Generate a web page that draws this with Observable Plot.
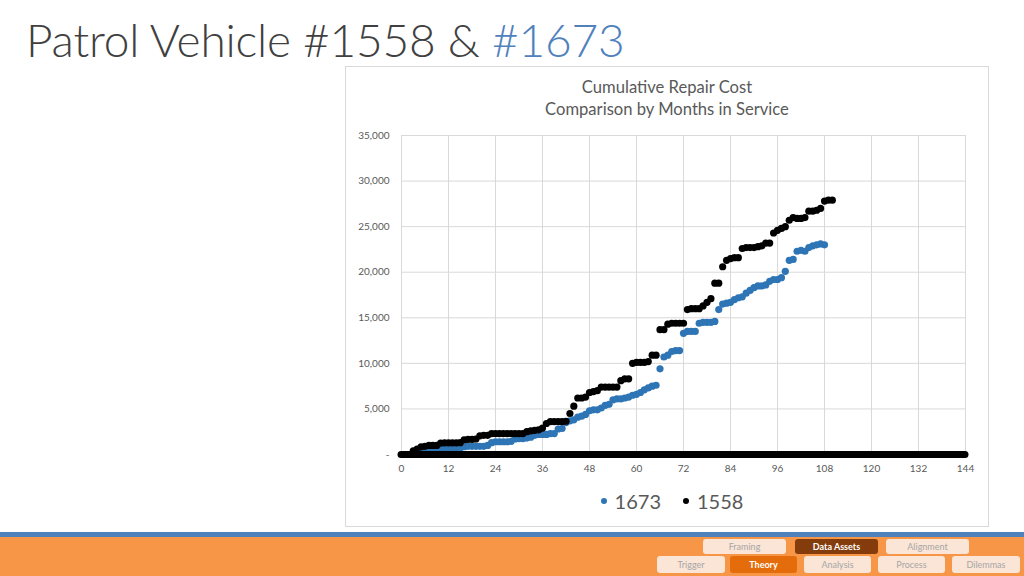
<!DOCTYPE html>
<html>
<head>
<meta charset="utf-8">
<script src="https://cdn.jsdelivr.net/npm/d3@7"></script>
<script src="https://cdn.jsdelivr.net/npm/@observablehq/plot@0.6"></script>
<style>
  html, body { margin: 0; padding: 0; background: #fff; }
  body { width: 1024px; height: 576px; position: relative; overflow: hidden; font-family: Lato, "Open Sans", sans-serif; }
  #title { position: absolute; left: 26px; top: 12px; font-size: 46px; font-weight: 300; color: #404040; white-space: nowrap; letter-spacing: -0.2px; }
  #title .hl { color: #4F81BD; }
  #box { position: absolute; left: 345px; top: 66px; width: 642px; height: 459px; border: 1px solid #d9d9d9; background: #fff; }
  #ctitle { position: absolute; left: 345px; top: 76px; width: 644px; text-align: center; font-size: 16.6px; line-height: 22px; color: #595959; }
  #chart { position: absolute; left: 345px; top: 120px; }
  #legend { position: absolute; left: 350px; top: 484px; width: 644px; text-align: center; font-size: 20px; color: #595959; }
  #legend span.it { display: inline-flex; align-items: center; margin: 0 11px; }
  #legend i { display: inline-block; width: 6px; height: 6px; border-radius: 50%; margin-right: 8px; }
  #bar-blue { position: absolute; left: 0; top: 532px; width: 1024px; height: 5px; background: #4F81BD; }
  #bar-orange { position: absolute; left: 0; top: 537px; width: 1024px; height: 39px; background: #F79646; }
  .btn { position: absolute; height: 15px; border-radius: 3px; background: #FBE5D6; color: #A6A6A6; font-size: 9px; text-align: center; line-height: 15px; }
  .btn.dark { background: #843C0C; color: #fff; font-weight: bold; }
  .btn.act { background: #E46C0A; color: #fff; font-weight: bold; }
</style>
</head>
<body>
<div id="title">Patrol Vehicle #1558 &amp; <span class="hl">#1673</span></div>
<div id="box"></div>
<div id="ctitle">Cumulative Repair Cost<br>Comparison by Months in Service</div>
<div id="chart"></div>
<div id="legend"></div>
<div id="bar-blue"></div>
<div id="bar-orange"></div>
<div id="nav"></div>
<script>
// ---- data ----
const seriesNames = ["1673", "1558"];
const seriesColors = ["#2E75B6", "#000000"];
const xTicks = [0, 12, 24, 36, 48, 60, 72, 84, 96, 108, 120, 132, 144];
const yTicks = [0, 5000, 10000, 15000, 20000, 25000, 30000, 35000];

// cumulative repair cost by month in service, vehicle #1673 (months 0..108)
const cost1673 = [0,0,0,0,0,250,300,400,450,500,
  650,660,660,660,680,700,850,900,900,900,
  900,900,1000,1300,1400,1400,1400,1400,1450,1700,
  1750,1750,1800,1900,2100,2200,2200,2200,2300,2300,
  2800,2850,3500,3700,3800,4100,4200,4400,4800,4900,
  4900,5100,5400,5500,6000,6100,6100,6200,6300,6500,
  6600,6800,7100,7300,7500,7600,9400,10700,10900,11300,
  11400,11400,13300,13500,13500,13500,14400,14500,14500,14500,
  14600,15900,16500,16600,16700,17000,17200,17300,17700,18000,
  18300,18500,18500,18600,19000,19200,19200,19400,20100,21300,
  21400,22300,22400,22300,22700,22900,23000,23100,23000];

// cumulative repair cost by month in service, vehicle #1558 (months 0..110)
const cost1558 = [0,0,0,400,600,850,900,1000,1000,1000,
  1250,1280,1280,1280,1280,1300,1600,1650,1650,1700,
  2050,2100,2100,2300,2300,2300,2300,2300,2300,2300,
  2300,2300,2500,2600,2650,2700,2900,3400,3600,3600,
  3600,3600,3650,4500,5300,6200,6200,6300,6800,6900,
  7000,7400,7400,7400,7400,7400,8100,8300,8300,10000,
  10100,10100,10100,10200,10900,10900,13700,13700,14300,14400,
  14400,14400,14400,15900,16000,16000,16000,16300,16700,17100,
  18800,18800,20600,21300,21500,21600,21600,22600,22700,22700,
  22700,22800,22900,23200,23200,24300,24600,24800,25000,25700,
  26000,25900,25900,26000,26700,26700,26800,27000,27800,27900,27900];

// ---- build table ----
const rows = [];
cost1673.forEach((v, i) => { if (v > 0) rows.push({month: i, cost: v, series: seriesNames[0]}); });
cost1558.forEach((v, i) => { if (v > 0) rows.push({month: i, cost: v, series: seriesNames[1]}); });
const baseline = [{from: xTicks[0], to: xTicks[xTicks.length - 1], cost: 0}];

const chart = Plot.plot({
  width: 644,
  height: 370,
  marginLeft: 56,
  marginRight: 24,
  marginTop: 15,
  marginBottom: 36,
  style: {fontFamily: "Lato, 'Open Sans', sans-serif", fontSize: "10px", color: "#595959", background: "transparent"},
  x: {domain: [0, 144], ticks: xTicks, tickSize: 0, tickPadding: 10, label: null},
  y: {domain: [0, 35000], ticks: yTicks, tickSize: 0, tickPadding: 12, label: null,
      tickFormat: d => d === 0 ? "-" : d3.format(",")(d)},
  color: {domain: seriesNames, range: seriesColors},
  marks: [
    Plot.gridX(xTicks, {stroke: "#d9d9d9", strokeOpacity: 1}),
    Plot.gridY(yTicks, {stroke: "#d9d9d9", strokeOpacity: 1}),
    Plot.dot(rows, {x: "month", y: "cost", fill: "series", r: 3.6, stroke: null}),
    Plot.ruleY(baseline, {x1: "from", x2: "to", y: "cost", stroke: "#000", strokeWidth: 7, strokeLinecap: "round"})
  ]
});
document.getElementById("chart").appendChild(chart);

// legend
const legend = document.getElementById("legend");
seriesNames.forEach((n, i) => {
  const s = document.createElement("span");
  s.className = "it";
  s.innerHTML = `<i style="background:${seriesColors[i]}"></i>${n}`;
  legend.appendChild(s);
});

// nav buttons
const navRow1 = ["Framing", "Data Assets", "Alignment"];
const navRow2 = ["Trigger", "Theory", "Analysis", "Process", "Dilemmas"];
const nav = document.getElementById("nav");
const r1x = [703, 795, 886], r1w = [83, 83, 83];
const r2x = [657, 730, 804, 878, 952], r2w = [68, 67, 67, 67, 68];
navRow1.forEach((t, i) => {
  const b = document.createElement("div");
  b.className = "btn" + (t === "Data Assets" ? " dark" : "");
  b.style.left = r1x[i] + "px"; b.style.top = "539px"; b.style.width = r1w[i] + "px";
  b.textContent = t; nav.appendChild(b);
});
navRow2.forEach((t, i) => {
  const b = document.createElement("div");
  b.className = "btn" + (t === "Theory" ? " act" : "");
  b.style.left = r2x[i] + "px"; b.style.top = "556px"; b.style.width = r2w[i] + "px"; b.style.height = "17px"; b.style.lineHeight = "17px";
  b.textContent = t; nav.appendChild(b);
});
</script>
</body>
</html>
